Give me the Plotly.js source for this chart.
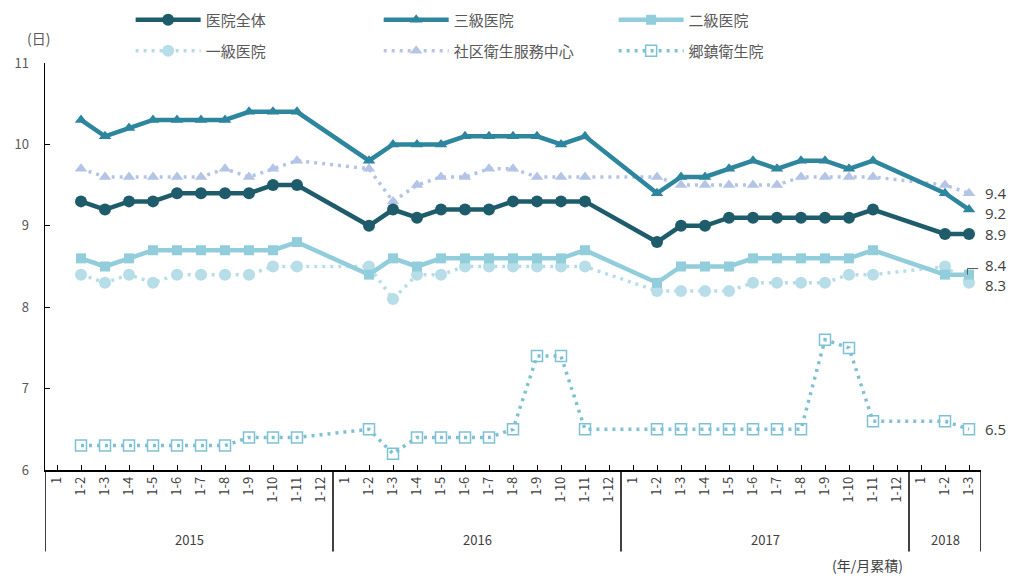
<!DOCTYPE html>
<html>
<head>
<meta charset="utf-8">
<script src="https://cdn.plot.ly/plotly-3.0.1.min.js"></script>
<style>
html,body{margin:0;padding:0;background:#fff;}
#chart{width:1011px;height:576px;}
</style>
</head>
<body>
<div id="chart"></div>
<script>
// ---- data ----
const years = ['2015', '2016', '2017', '2018'];
const monthsPerYear = [12, 12, 12, 3];
const monthLabels = ['1', '1-2', '1-3', '1-4', '1-5', '1-6', '1-7', '1-8', '1-9', '1-10', '1-11', '1-12'];

const seriesNames = ['医院全体', '三級医院', '二級医院', '一級医院', '社区衛生服務中心', '郷鎮衛生院'];

const hospitalAll = [null, 9.3, 9.2, 9.3, 9.3, 9.4, 9.4, 9.4, 9.4, 9.5, 9.5, null,
                     null, 9.0, 9.2, 9.1, 9.2, 9.2, 9.2, 9.3, 9.3, 9.3, 9.3, null,
                     null, 8.8, 9.0, 9.0, 9.1, 9.1, 9.1, 9.1, 9.1, 9.1, 9.2, null,
                     null, 8.9, 8.9];
const tertiary    = [null, 10.3, 10.1, 10.2, 10.3, 10.3, 10.3, 10.3, 10.4, 10.4, 10.4, null,
                     null, 9.8, 10.0, 10.0, 10.0, 10.1, 10.1, 10.1, 10.1, 10.0, 10.1, null,
                     null, 9.4, 9.6, 9.6, 9.7, 9.8, 9.7, 9.8, 9.8, 9.7, 9.8, null,
                     null, 9.4, 9.2];
const secondary   = [null, 8.6, 8.5, 8.6, 8.7, 8.7, 8.7, 8.7, 8.7, 8.7, 8.8, null,
                     null, 8.4, 8.6, 8.5, 8.6, 8.6, 8.6, 8.6, 8.6, 8.6, 8.7, null,
                     null, 8.3, 8.5, 8.5, 8.5, 8.6, 8.6, 8.6, 8.6, 8.6, 8.7, null,
                     null, 8.4, 8.4];
const primary     = [null, 8.4, 8.3, 8.4, 8.3, 8.4, 8.4, 8.4, 8.4, 8.5, 8.5, null,
                     null, 8.5, 8.1, 8.4, 8.4, 8.5, 8.5, 8.5, 8.5, 8.5, 8.5, null,
                     null, 8.2, 8.2, 8.2, 8.2, 8.3, 8.3, 8.3, 8.3, 8.4, 8.4, null,
                     null, 8.5, 8.3];
const community   = [null, 9.7, 9.6, 9.6, 9.6, 9.6, 9.6, 9.7, 9.6, 9.7, 9.8, null,
                     null, 9.7, 9.3, 9.5, 9.6, 9.6, 9.7, 9.7, 9.6, 9.6, 9.6, null,
                     null, 9.6, 9.5, 9.5, 9.5, 9.5, 9.5, 9.6, 9.6, 9.6, 9.6, null,
                     null, 9.5, 9.4];
const township    = [null, 6.3, 6.3, 6.3, 6.3, 6.3, 6.3, 6.3, 6.4, 6.4, 6.4, null,
                     null, 6.5, 6.2, 6.4, 6.4, 6.4, 6.4, 6.5, 7.4, 7.4, 6.5, null,
                     null, 6.5, 6.5, 6.5, 6.5, 6.5, 6.5, 6.5, 7.6, 7.5, 6.6, null,
                     null, 6.6, 6.5];

const endLabels = ['8.9', '9.2', '8.4', '8.3', '9.4', '6.5'];
const yTitle = '(日)';
const xTitle = '(年/月累積)';

// ---- build categories ----
const tickText = [];
const yearStart = [];
years.forEach((y, k) => {
  yearStart.push(tickText.length);
  for (let m = 0; m < monthsPerYear[k]; m++) tickText.push(monthLabels[m]);
});
const xIdx = tickText.map((_, i) => i);
const lastIdx = xIdx.length - 1;

const FONT = '"Noto Sans CJK JP", "Noto Sans", sans-serif';
const LBL = '#404040';
const DOT = '3px,5px';

const styles = [
  {color: '#1F5C6B', dash: 'solid', width: 4.5, symbol: 'circle', size: 12, fill: '#1F5C6B'},
  {color: '#2E869E', dash: 'solid', width: 4.5, symbol: 'triangle-up', size: 11, fill: '#2E869E'},
  {color: '#92CDDC', dash: 'solid', width: 4.5, symbol: 'square', size: 10, fill: '#92CDDC'},
  {color: '#B7DEE8', dash: DOT, width: 3.5, symbol: 'circle', size: 12, fill: '#B7DEE8'},
  {color: '#B4C4E6', dash: DOT, width: 3.5, symbol: 'triangle-up', size: 11, fill: '#B4C4E6'},
  {color: '#7FC1D4', dash: DOT, width: 3.5, symbol: 'square-open', size: 11, fill: '#7FC1D4'}
];
const values = [hospitalAll, tertiary, secondary, primary, community, township];
const legendIds = ['legend', 'legend2', 'legend3', 'legend4', 'legend5', 'legend6'];

const traces = values.map((v, i) => ({
  type: 'scatter',
  mode: 'lines+markers',
  name: seriesNames[i],
  legend: legendIds[i],
  x: xIdx,
  y: v,
  connectgaps: true,
  cliponaxis: false,
  line: {color: styles[i].color, width: styles[i].width, dash: styles[i].dash},
  marker: {symbol: styles[i].symbol, size: styles[i].size, color: styles[i].fill,
           line: {width: styles[i].symbol === 'square-open' ? 1.5 : 0, color: styles[i].color}}
}));
// draw order: dotted below solid
const order = [5, 3, 4, 2, 0, 1];
const data = order.map(i => traces[i]);

// ---- annotations ----
const annotations = [];
years.forEach((y, k) => {
  const c = yearStart[k] + (monthsPerYear[k] - 1) / 2;
  annotations.push({xref: 'x', yref: 'paper', x: c, y: -0.17, text: y, showarrow: false,
    font: {family: FONT, size: 13, color: LBL}, yanchor: 'middle'});
});
annotations.push({xref: 'paper', yref: 'paper', x: 0.919, y: -0.233, text: xTitle, showarrow: false,
  font: {family: FONT, size: 14, color: LBL}, yanchor: 'middle'});
annotations.push({xref: 'paper', yref: 'paper', x: -0.021, y: 1.061, text: yTitle, showarrow: false,
  font: {family: FONT, size: 14, color: '#595959'}, yanchor: 'middle'});

const endSeries = [hospitalAll, tertiary, secondary, primary, community, township];
const endShift = [0, -3, 10, -2, 0, 0];
endSeries.forEach((s, i) => {
  annotations.push({xref: 'x', yref: 'y', x: lastIdx, y: s[lastIdx], text: endLabels[i],
    showarrow: false, xanchor: 'left', xshift: 14, yshift: endShift[i],
    font: {family: '"Open Sans", sans-serif', size: 15, color: LBL}});
});

// ---- divider shapes ----
const shapes = [];
const bounds = yearStart.map(s => s - 0.5).concat([lastIdx + 0.5]);
bounds.forEach(b => shapes.push({type: 'line', xref: 'x', yref: 'paper', x0: b, x1: b, y0: 0, y1: -0.2,
  line: {color: '#000', width: 1.5}}));
// leader for 8.4
shapes.push({type: 'path', xref: 'paper', yref: 'paper',
  path: 'M 0.9855 0.48 L 0.9855 0.495 L 0.997 0.495', line: {color: '#595959', width: 1}});

// ---- legends: 2 rows x 3 columns ----
const legX = [0.0915, 0.3565, 0.6075];
const legY = [1.1057, 1.0295];
const legendCommon = {orientation: 'v', xanchor: 'left', yanchor: 'middle', itemwidth: 65,
  font: {family: FONT, size: 15, color: '#595959'}, bgcolor: 'rgba(0,0,0,0)'};

const layout = {
  width: 1011, height: 576,
  margin: {l: 45, r: 30, t: 63, b: 106, autoexpand: false},
  paper_bgcolor: '#fff', plot_bgcolor: '#fff',
  font: {family: FONT, color: '#595959'},
  showlegend: true,
  xaxis: {range: [-0.5, lastIdx + 0.5], tickmode: 'array', tickvals: xIdx, ticktext: tickText,
          tickangle: -90, ticks: 'inside', ticklen: 5, tickcolor: '#000', tickwidth: 1,
          showline: true, linecolor: '#000', linewidth: 1.5, showgrid: false, zeroline: false,
          tickfont: {family: FONT, size: 13, color: LBL}, fixedrange: true, automargin: false},
  yaxis: {range: [6, 11], tickmode: 'linear', tick0: 6, dtick: 1, ticks: 'inside', ticklen: 5,
          tickcolor: '#000', showline: true, linecolor: '#000', linewidth: 1.5,
          showgrid: false, zeroline: false, ticklabelstandoff: 12,
          tickfont: {family: FONT, size: 13, color: '#595959'}, fixedrange: true, automargin: false},
  annotations: annotations,
  shapes: shapes
};
legendIds.forEach((id, i) => {
  layout[id] = Object.assign({}, legendCommon, {x: legX[i % 3], y: legY[Math.floor(i / 3)]});
});

Plotly.newPlot('chart', data, layout, {displayModeBar: false, staticPlot: true});
</script>
</body>
</html>
